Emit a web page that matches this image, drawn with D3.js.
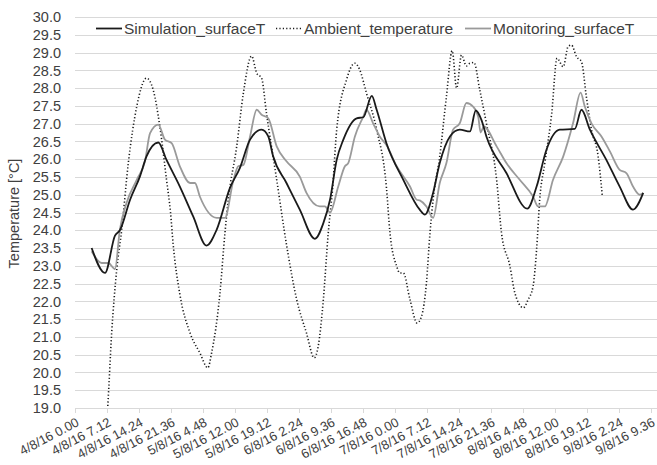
<!DOCTYPE html>
<html>
<head>
<meta charset="utf-8">
<script src="https://cdnjs.cloudflare.com/ajax/libs/d3/7.8.5/d3.min.js"></script>
<style>
  body { margin: 0; background: #fff; }
  text { font-family: "Liberation Sans", Arial, sans-serif; fill: #404040; }
</style>
</head>
<body>
<div id="chart"></div>
<script>
// category labels on the time axis (every 7.2 h)
const tickLabels = ["4/8/16 0.00", "4/8/16 7.12", "4/8/16 14.24", "4/8/16 21.36", "5/8/16 4.48",
    "5/8/16 12.00", "5/8/16 19.12", "6/8/16 2.24", "6/8/16 9.36", "6/8/16 16.48", "7/8/16 0.00",
    "7/8/16 7.12", "7/8/16 14.24", "7/8/16 21.36", "8/8/16 4.48", "8/8/16 12.00", "8/8/16 19.12",
    "9/8/16 2.24", "9/8/16 9.36"];
const tickHours = [0, 7.2, 14.4, 21.6, 28.8, 36, 43.2, 50.4, 57.6, 64.8, 72, 79.2, 86.4, 93.6,
    100.8, 108, 115.2, 122.4, 129.6];

const yTicks = [19, 19.5, 20, 20.5, 21, 21.5, 22, 22.5, 23, 23.5, 24, 24.5, 25, 25.5, 26, 26.5,
    27, 27.5, 28, 28.5, 29, 29.5, 30];

// hours since 4/8/16 0.00
const simHours = [3.75, 6.75, 9.0, 10.1, 12.4, 14.6, 16.1, 18.75, 20.6, 23.6, 26.6, 29.6, 31.9,
    34.9, 37.1, 39.4, 42.0, 43.5, 44.6, 47.6, 50.6, 54.0, 55.9, 57.4, 58.9, 60.4, 63.4, 64.9,
    66.8, 67.9, 70.1, 73.9, 77.6, 78.75, 80.6, 82.1, 84.4, 86.6, 88.9, 90.2, 91.5, 92.6, 97.1,
    101.8, 103.9, 106.1, 109.1, 112.5, 114.0, 115.9, 119.6, 122.6, 125.6, 127.9];
const simTemps = [23.5, 22.8, 23.85, 24.0, 24.86, 25.51, 26.08, 26.47, 25.98, 25.23, 24.39, 23.57,
    24.02, 25.2, 25.75, 26.55, 26.83, 26.64, 26.08, 25.33, 24.58, 23.76, 24.2, 24.86, 25.98,
    26.55, 27.15, 27.18, 27.78, 27.39, 26.45, 25.42, 24.58, 24.44, 25.05, 25.89, 26.64, 26.83,
    26.78, 27.37, 27.1, 26.64, 25.61, 24.61, 25.23, 26.26, 26.83, 26.85, 27.39, 26.83, 25.98,
    25.23, 24.58, 25.05];

const ambHours = [6.9, 7.35, 8.25, 9.4, 10.5, 12.0, 13.9, 16.1, 17.6, 19.1, 20.6, 21.5, 22.1, 23.6,
    25.9, 28.1, 29.9, 30.75, 32.6, 33.75, 34.5, 36.4, 37.9, 39.75, 40.9, 42.0, 43.1, 45.4, 47.6,
    49.9, 52.1, 53.85, 54.75, 55.9, 57.0, 58.0, 58.9, 61.1, 63.0, 64.1, 65.6, 67.9, 70.1, 70.9,
    72.4, 73.1, 73.9, 75.4, 77.0, 78.0, 79.1, 79.9, 80.6, 82.1, 83.6, 84.9, 85.9, 87.0, 88.1,
    88.9, 89.8, 91.1, 92.6, 94.9, 96.0, 97.9, 99.0, 100.9, 102.0, 103.1, 103.9, 104.6, 105.75,
    107.3, 108.5, 109.9, 111.0, 111.75, 112.9, 114.0, 115.1, 116.25, 117.75, 118.7];
const ambTemps = [18.2, 19.0, 21.1, 22.9, 24.0, 25.89, 27.48, 28.28, 27.95, 26.92, 25.42, 24.5,
    23.6, 22.2, 21.11, 20.55, 20.13, 20.55, 22.2, 23.92, 24.86, 26.36, 27.86, 28.9, 28.42, 28.28,
    27.29, 25.42, 23.6, 22.05, 21.11, 20.41, 20.74, 22.05, 23.92, 25.2, 26.83, 28.23, 28.7, 28.51,
    27.86, 26.83, 25.2, 23.92, 22.99, 22.8, 22.8, 22.05, 21.39, 21.58, 22.52, 23.92, 24.86, 26.08,
    27.76, 29.05, 28.0, 28.93, 28.62, 28.7, 28.72, 27.95, 27.01, 25.42, 23.92, 22.99, 22.24,
    21.82, 22.05, 22.42, 23.46, 24.86, 25.89, 27.29, 28.84, 28.6, 29.17, 29.21, 28.88, 28.74,
    27.76, 26.83, 26.08, 24.95];

const monHours = [3.75, 6.0, 7.5, 9.0, 10.1, 11.6, 13.9, 15.75, 16.9, 18.75, 20.25, 21.75, 23.6,
    25.9, 27.0, 28.1, 31.9, 33.75, 35.6, 36.75, 37.9, 39.4, 40.9, 42.0, 43.5, 45.4, 47.6, 50.6,
    52.1, 55.1, 56.25, 57.4, 59.25, 60.75, 61.5, 63.0, 64.9, 65.6, 67.1, 68.6, 70.1, 72.4, 75.4,
    76.9, 77.6, 79.1, 80.6, 82.1, 83.6, 85.1, 86.6, 88.1, 89.6, 90.75, 91.3, 92.0, 94.9, 97.1,
    100.1, 103.1, 104.25, 105.75, 107.6, 109.9, 112.1, 113.8, 114.75, 116.25, 118.5, 120.4,
    122.6, 124.1, 125.6, 127.1, 127.9];
const monTemps = [23.41, 23.08, 23.08, 22.91, 24.02, 24.77, 25.42, 25.94, 26.73, 26.97, 26.55,
    26.45, 25.8, 25.33, 25.33, 24.95, 24.35, 24.35, 25.38, 25.8, 25.84, 26.64, 27.39, 27.25,
    27.15, 26.36, 25.94, 25.51, 25.05, 24.67, 24.67, 24.5, 25.23, 25.8, 25.89, 26.64, 27.2,
    27.39, 27.01, 26.64, 26.4, 25.8, 25.23, 24.86, 24.84, 24.67, 24.35, 25.33, 25.89, 26.83,
    27.01, 27.58, 27.48, 27.2, 26.75, 26.92, 26.36, 25.89, 25.42, 24.95, 24.67, 24.67, 25.42,
    26.08, 27.01, 27.87, 27.48, 27.01, 26.64, 26.22, 25.7, 25.61, 25.23, 25.0, 25.05];

const seriesNames = ["Simulation_surfaceT", "Ambient_temperature", "Monitoring_surfaceT"];

const width = 657;
const height = 465;
const margin = { left: 75, right: 0, top: 17, bottom: 57 };

const svg = d3.select("#chart")
    .append("svg")
    .attr("width", width)
    .attr("height", height);

const x = d3.scaleLinear().domain([0, 131]).range([margin.left, width - margin.right]);
const y = d3.scaleLinear().domain([19, 30]).range([height - margin.bottom, margin.top]);

// horizontal gridlines
svg.append("g")
    .selectAll("line")
    .data(yTicks)
    .enter().append("line")
    .attr("x1", x(0))
    .attr("x2", width)
    .attr("y1", d => Math.round(y(d)) + 0.5)
    .attr("y2", d => Math.round(y(d)) + 0.5)
    .attr("stroke", "#d9d9d9")
    .attr("stroke-width", 1);

// y tick labels
svg.append("g")
    .selectAll("text")
    .data(yTicks)
    .enter().append("text")
    .attr("x", 61)
    .attr("y", d => y(d))
    .attr("dy", "0.36em")
    .attr("text-anchor", "end")
    .style("font-size", "14.5px")
    .text(d => d.toFixed(1));

// x tick marks
svg.append("g")
    .selectAll("line")
    .data(tickHours)
    .enter().append("line")
    .attr("x1", d => Math.round(x(d)) + 0.5)
    .attr("x2", d => Math.round(x(d)) + 0.5)
    .attr("y1", y(19))
    .attr("y2", y(19) + 5)
    .attr("stroke", "#d9d9d9");

// x tick labels, rotated
svg.append("g")
    .selectAll("text")
    .data(tickHours)
    .enter().append("text")
    .attr("transform", d => `translate(${x(d) + 5},${y(19) + 17}) rotate(-28)`)
    .attr("text-anchor", "end")
    .style("font-size", "13px")
    .text((d, i) => tickLabels[i]);

// y axis title
svg.append("text")
    .attr("transform", `translate(19,${(y(19) + y(30)) / 2 + 1}) rotate(-90)`)
    .attr("text-anchor", "middle")
    .style("font-size", "14.5px")
    .text("Temperature [°C]");

// clip to plot area
svg.append("clipPath")
    .attr("id", "plot")
    .append("rect")
    .attr("x", x(0))
    .attr("y", 0)
    .attr("width", width - x(0))
    .attr("height", y(19));

const line = d3.line()
    .x(d => x(d[0]))
    .y(d => y(d[1]))
    .curve(d3.curveMonotoneX);

const series = [
    { hours: simHours, temps: simTemps, color: "#1a1a1a", width: 1.8, dash: null },
    { hours: ambHours, temps: ambTemps, color: "#1a1a1a", width: 1.6, dash: "1.2 2.2" },
    { hours: monHours, temps: monTemps, color: "#9a9a9a", width: 1.8, dash: null },
];

const plot = svg.append("g").attr("clip-path", "url(#plot)");

// draw ambient first, then monitoring, then simulation on top
[1, 2, 0].forEach(i => {
    const s = series[i];
    plot.append("path")
        .datum(s.hours.map((h, j) => [h, s.temps[j]]))
        .attr("fill", "none")
        .attr("stroke", s.color)
        .attr("stroke-width", s.width)
        .attr("stroke-dasharray", s.dash)
        .attr("stroke-linejoin", "round")
        .attr("d", line);
});

// legend
const legendX = [96, 276, 465];
const legendY = 28.5;
const legend = svg.append("g");
series.forEach((s, i) => {
    legend.append("line")
        .attr("x1", legendX[i])
        .attr("x2", legendX[i] + 26)
        .attr("y1", legendY)
        .attr("y2", legendY)
        .attr("stroke", s.color)
        .attr("stroke-width", s.width)
        .attr("stroke-dasharray", s.dash);
    legend.append("text")
        .attr("x", legendX[i] + 28)
        .attr("y", legendY)
        .attr("dy", "0.36em")
        .style("font-size", "15.5px")
        .text(seriesNames[i]);
});
</script>
</body>
</html>
